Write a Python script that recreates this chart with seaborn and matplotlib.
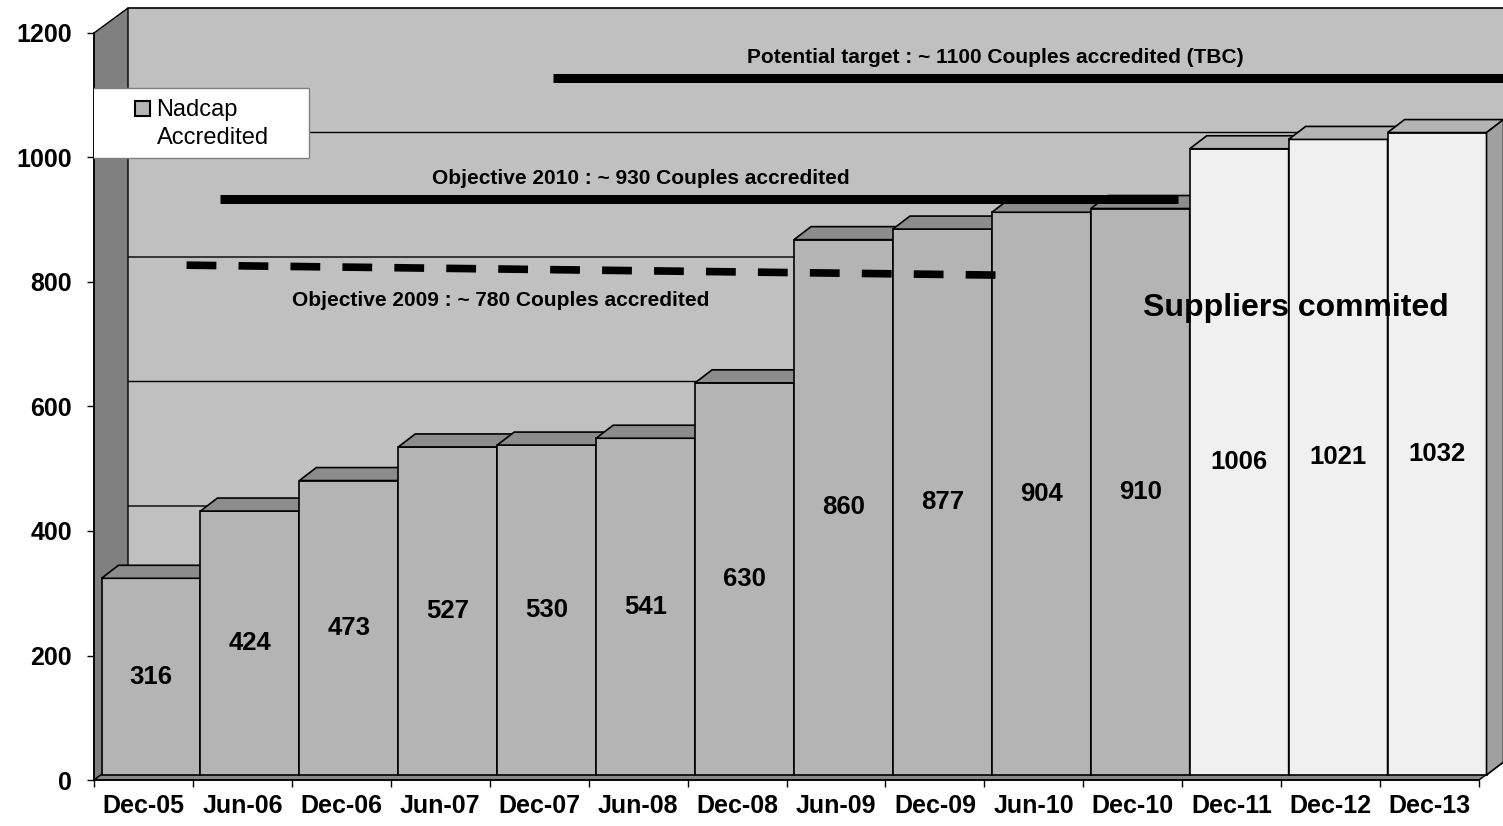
import matplotlib.pyplot as plt
import matplotlib.patches as mpatches
import numpy as np
import pandas as pd
import seaborn as sns


# Data
periods = ["Dec-05", "Jun-06", "Dec-06", "Jun-07", "Dec-07", "Jun-08", "Dec-08",
           "Jun-09", "Dec-09", "Jun-10", "Dec-10", "Dec-11", "Dec-12", "Dec-13"]
accredited = [316, 424, 473, 527, 530, 541, 630, 860, 877, 904, 910, 1006, 1021, 1032]
status = ["accredited"] * 11 + ["committed"] * 3
y_ticks = [0, 200, 400, 600, 800, 1000, 1200]

# hand-drawn target lines (level as drawn, in value units)
potential_level = 1120
objective_2010_level = 925
objective_2009_levels = [819, 803]  # slightly slanted dashed line

df = pd.DataFrame({"period": periods, "value": accredited, "status": status})

face = {"accredited": "#b4b4b4", "committed": "#f0f0f0"}
top = {"accredited": "#8c8c8c", "committed": "#b4b4b4"}
side = {"accredited": "#8c8c8c", "committed": "#a0a0a0"}

sns.set_style("white")
plt.rcParams["font.family"] = ["Liberation Sans", "DejaVu Sans"]
plt.rcParams["text.color"] = "black"
plt.rcParams["xtick.color"] = "black"
plt.rcParams["ytick.color"] = "black"

fig = plt.figure(figsize=(15.03, 8.26), dpi=100)

# pseudo 3D geometry (pixel offsets converted to data units)
PX_X = 98.93   # px per category
PX_Y = 0.6225  # px per value unit
FX, FY = 7.5 / PX_X, 5 / PX_Y      # bars sit behind the front plane
BX, BY = 17 / PX_X, 13 / PX_Y      # bar depth
WX, WY = 34 / PX_X, 25 / PX_Y      # back wall depth

n = len(periods)
xf = -0.5 - FX
ax = fig.add_axes([94 / 1503, 46 / 826, n * PX_X / 1503, 1200 * PX_Y / 826])

sns.barplot(data=df, x="period", y="value", hue="status", palette=face,
            dodge=False, width=1, edgecolor="black", linewidth=1.2,
            legend=False, ax=ax)

ax.set_xlim(xf, xf + n)
ax.set_ylim(-FY, 1200 - FY)
ax.set_xlabel("")
ax.set_ylabel("")

# back wall, side wall and floor
xw = xf + WX
yw0 = -FY + WY
ax.fill([xw, 16, 16, xw], [yw0, yw0, 1200 + yw0, 1200 + yw0],
        color="#c0c0c0", zorder=0, clip_on=False)
ax.plot([xw, 16], [1200 + yw0, 1200 + yw0], color="black", lw=1.2,
        zorder=1, clip_on=False)
for v in y_ticks[1:-1]:
    ax.plot([xf, xw, 16], [v - FY, v + yw0, v + yw0], color="black",
            lw=1, zorder=1, clip_on=False)
ax.fill([xf, xf, xw, xw], [-FY, 1200 - FY, 1200 + yw0, yw0],
        facecolor="#808080", edgecolor="black", lw=1, zorder=2, clip_on=False)
ax.fill([xf, xf + n, xf + n + WX, xw], [-FY, -FY, yw0, yw0],
        facecolor="#8a8a8a", edgecolor="black", lw=1, zorder=2, clip_on=False)

# bar tops and sides, stacked so each bar hides the one on its left
for p in ax.patches:
    if not isinstance(p, mpatches.Rectangle) or p.get_width() < 0.5:
        continue
    i = int(round(p.get_x() + p.get_width() / 2))
    p.set_zorder(10 + 2 * i)
    p.set_clip_on(False)
x0s = np.arange(n) - 0.5
for i, (v, s) in enumerate(zip(accredited, status)):
    x0, x1 = x0s[i], x0s[i] + 1
    ax.fill([x0, x1, x1 + BX, x0 + BX], [v, v, v + BY, v + BY],
            facecolor=top[s], edgecolor="black", lw=1.2, zorder=11 + 2 * i,
            clip_on=False)
    ax.fill([x1, x1 + BX, x1 + BX, x1], [0, BY, v + BY, v],
            facecolor=side[s], edgecolor="black", lw=1.2, zorder=11 + 2 * i,
            clip_on=False)
    ax.text(i, v / 2, str(v), ha="center", va="center", fontsize=18.5,
            fontweight="bold", zorder=45)

# target lines
ax.plot([4.06, 13.8], [potential_level] * 2, color="black", lw=6.5,
        solid_capstyle="butt", zorder=50, clip_on=False)
ax.plot([0.70, 10.38], [objective_2010_level] * 2, color="black", lw=6.5,
        solid_capstyle="butt", zorder=50)
ax.plot([0.36, 8.58], objective_2009_levels, color="black", lw=5.5,
        ls=(0, (3.9, 2.9)), zorder=50)

ax.text(8.53, 1153, "Potential target : ~ 1100 Couples accredited (TBC)",
        ha="center", va="center", fontsize=15, fontweight="bold", zorder=60)
ax.text(4.95, 959, "Objective 2010 : ~ 930 Couples accredited",
        ha="center", va="center", fontsize=15, fontweight="bold", zorder=60)
ax.text(3.54, 763, "Objective 2009 : ~ 780 Couples accredited",
        ha="center", va="center", fontsize=15, fontweight="bold", zorder=60)
ax.text(11.57, 750, "Suppliers commited", ha="center", va="center",
        fontsize=23, fontweight="bold", zorder=60)

# axes, ticks
for s in ["top", "right"]:
    ax.spines[s].set_visible(False)
for s in ["left", "bottom"]:
    ax.spines[s].set_color("black")
    ax.spines[s].set_linewidth(1.2)
    ax.spines[s].set_zorder(3)
ax.set_yticks(np.array(y_ticks) - FY, [str(v) for v in y_ticks])
ax.set_xticks(np.arange(n) - FX, periods)
ax.set_xticks(np.arange(n + 1) - 0.5 - FX, minor=True)
ax.tick_params(axis="y", direction="out", length=5, width=1, pad=11,
               labelsize=18, left=True)
ax.tick_params(axis="x", which="major", length=0, pad=10, labelsize=18)
ax.tick_params(axis="x", which="minor", direction="out", length=5, width=1,
               bottom=True)
for lbl in ax.get_xticklabels() + ax.get_yticklabels():
    lbl.set_fontweight("bold")

# legend
box = mpatches.Rectangle((91 / 1503, 1 - 158 / 826), 218 / 1503, 70 / 826,
                         transform=fig.transFigure, facecolor="white",
                         edgecolor="#808080", lw=1, zorder=90)
ax.add_patch(box)
handles = [mpatches.Patch(facecolor=face["accredited"], edgecolor="black",
                          lw=1.5, label="Nadcap"),
           mpatches.Patch(facecolor="none", edgecolor="none", label="Accredited")]
leg = ax.legend(handles=handles, loc="upper left",
                bbox_to_anchor=(133 / 1503, 1 - 97 / 826),
                bbox_transform=fig.transFigure, frameon=False, fontsize=17,
                handlelength=0.6, handleheight=0.6, handletextpad=0.3,
                labelspacing=0.22, borderpad=0.1, borderaxespad=0)
leg.set_zorder(100)

fig.savefig("out.png", dpi=100)
